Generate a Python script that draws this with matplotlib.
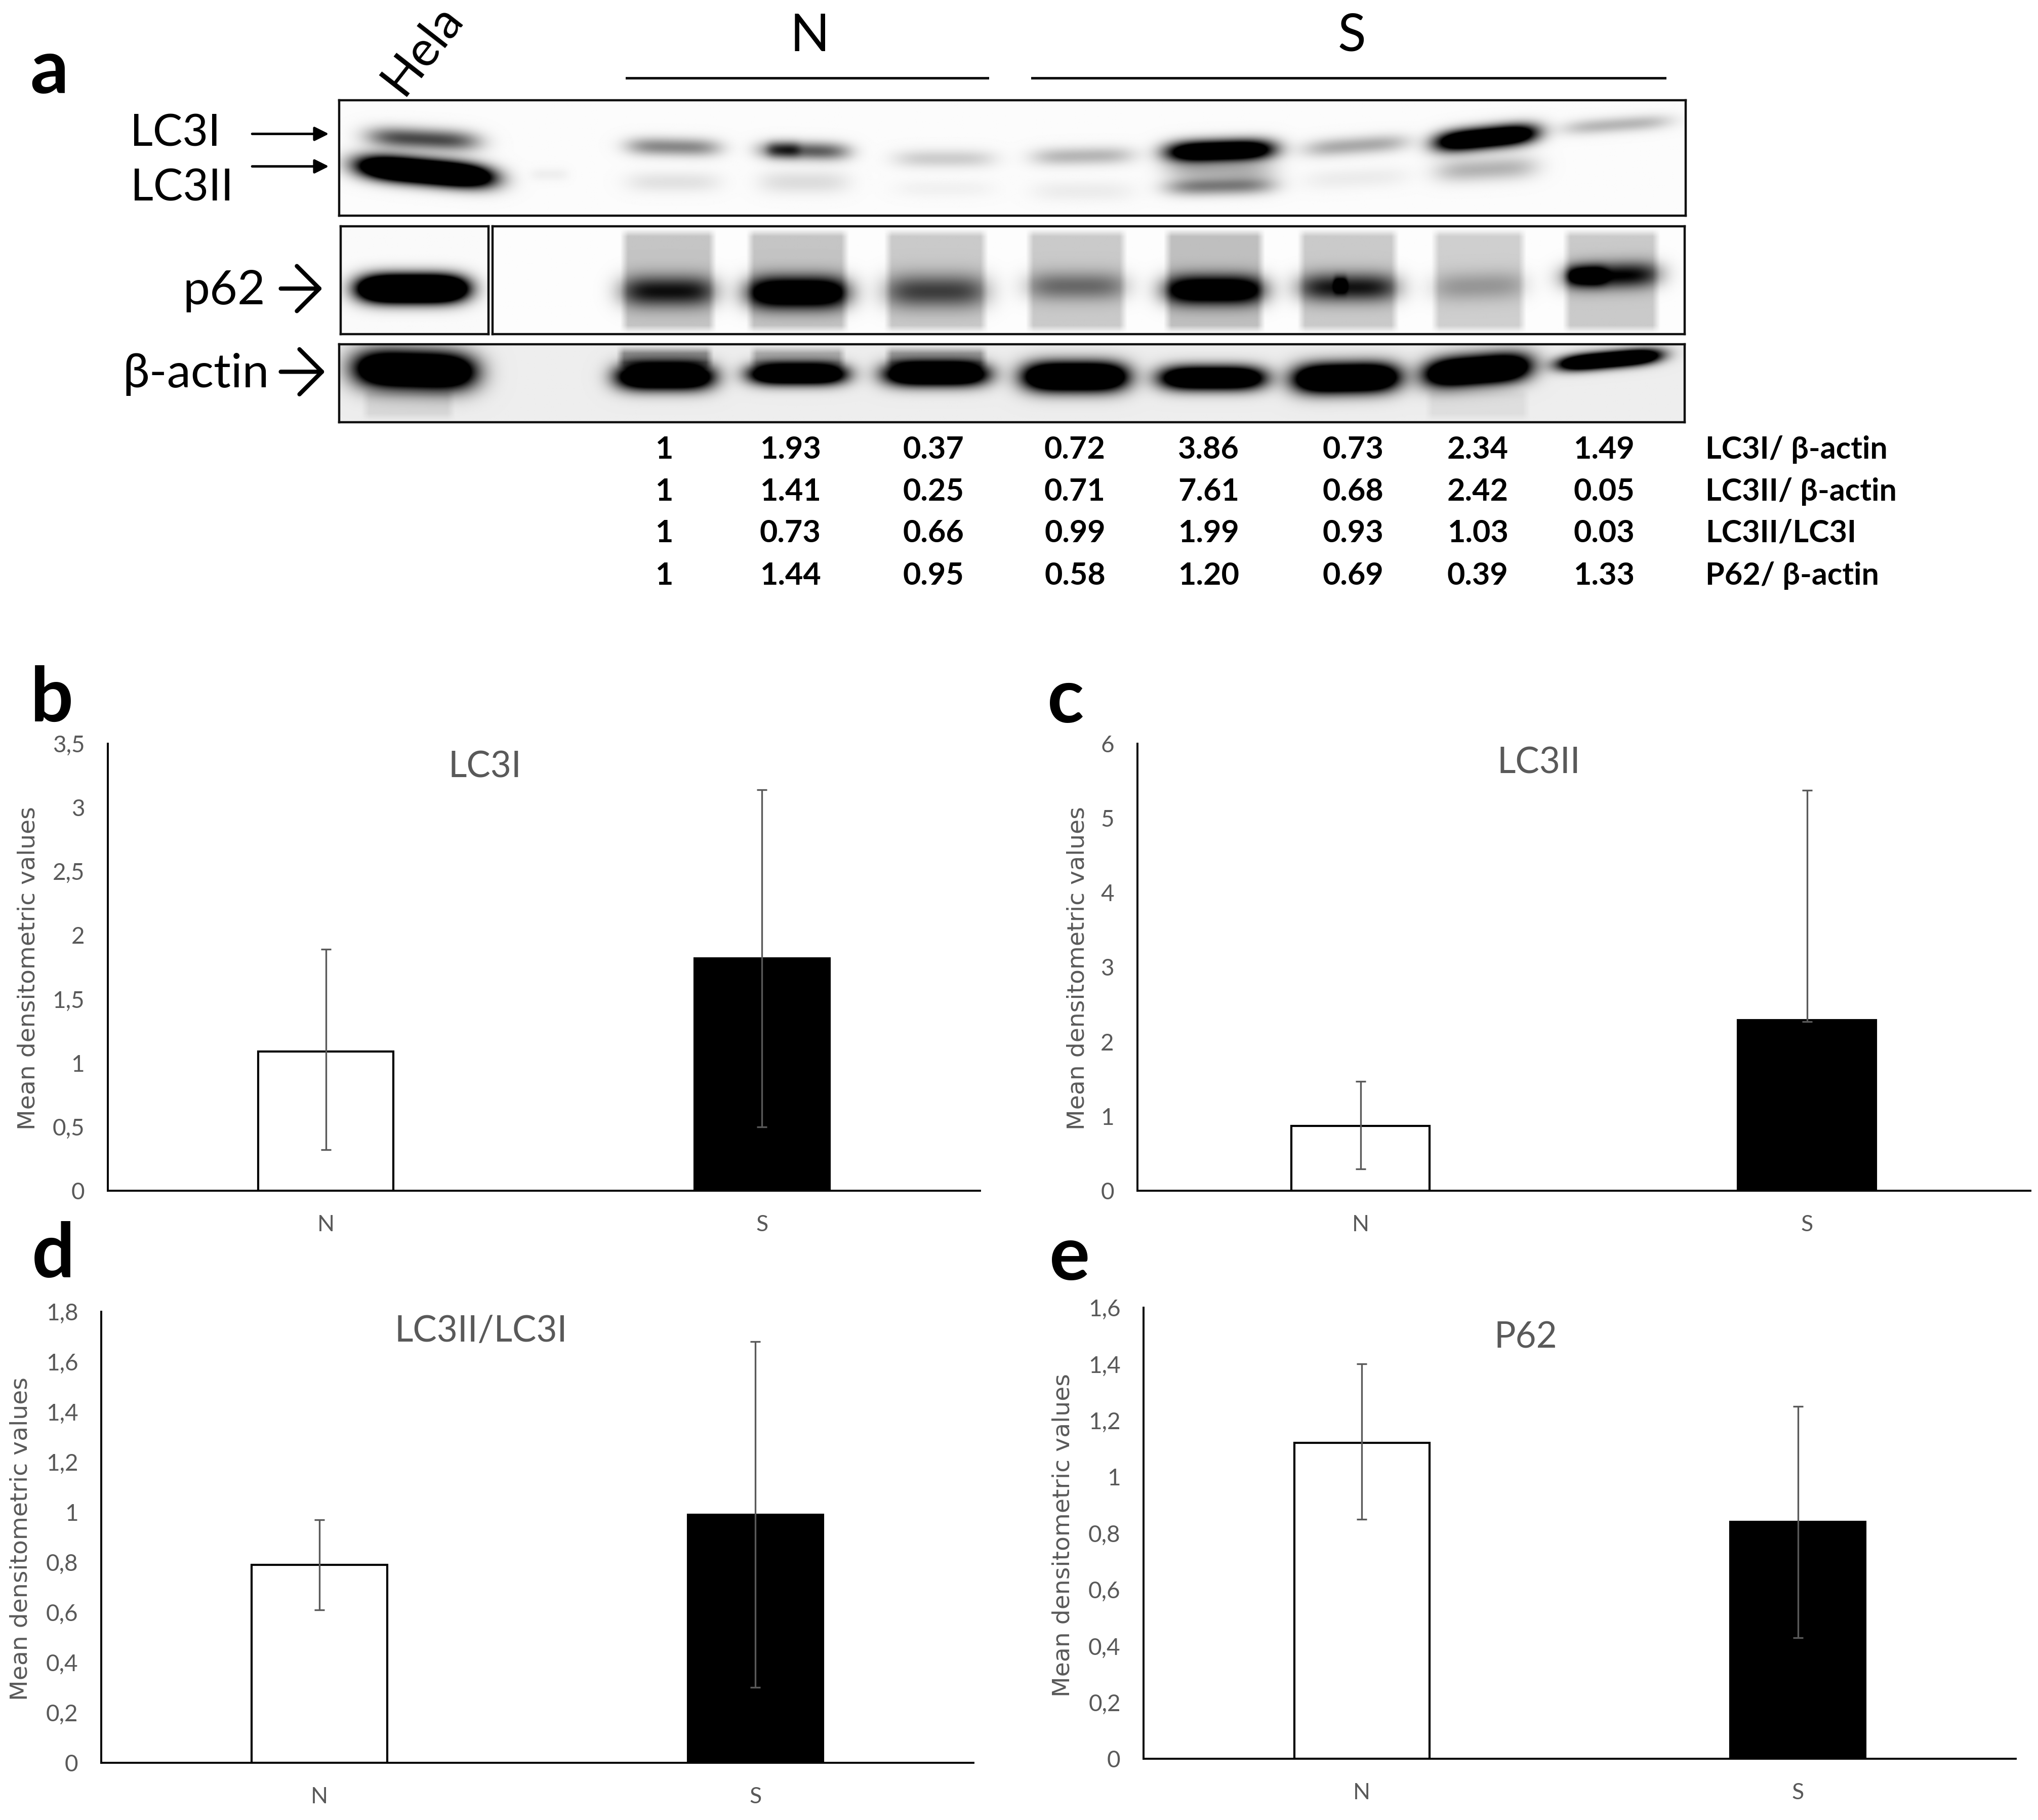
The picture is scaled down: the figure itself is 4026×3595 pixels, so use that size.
import numpy as np
import matplotlib
matplotlib.use('Agg')
import matplotlib.pyplot as plt

W, H = 4026, 3595
S = 4026 / 1568  # reference was read at 1568 wide

plt.rcParams['font.family'] = ['Lato', 'DejaVu Sans']

# bar values
groups = ['N', 'S']
lc3i_mean = [1.09, 1.82]
lc3i_low = [0.32, 0.50]
lc3i_high = [1.89, 3.14]
lc3ii_mean = [0.87, 2.29]
lc3ii_low = [0.29, 2.27]
lc3ii_high = [1.47, 5.37]
ratio_mean = [0.79, 0.99]
ratio_low = [0.61, 0.30]
ratio_high = [0.97, 1.68]
p62_mean = [1.12, 0.84]
p62_low = [0.85, 0.43]
p62_high = [1.40, 1.25]

lc3i_ticks = ['0', '0,5', '1', '1,5', '2', '2,5', '3', '3,5']
lc3ii_ticks = ['0', '1', '2', '3', '4', '5', '6']
ratio_ticks = ['0', '0,2', '0,4', '0,6', '0,8', '1', '1,2', '1,4', '1,6', '1,8']
p62_ticks = ['0', '0,2', '0,4', '0,6', '0,8', '1', '1,2', '1,4', '1,6']

# densitometry table under the blot
row_lc3i = ['1', '1.93', '0.37', '0.72', '3.86', '0.73', '2.34', '1.49']
row_lc3ii = ['1', '1.41', '0.25', '0.71', '7.61', '0.68', '2.42', '0.05']
row_ratio = ['1', '0.73', '0.66', '0.99', '1.99', '0.93', '1.03', '0.03']
row_p62 = ['1', '1.44', '0.95', '0.58', '1.20', '0.69', '0.39', '1.33']
row_names = ['LC3I/ β-actin', 'LC3II/ β-actin', 'LC3II/LC3I', 'P62/ β-actin']

# blot bands: x0, x1, y centre, half height, darkness, tilt
lc3_bands = [
    (283, 368, 107, 8, 0.7, 0.05), (276, 378, 132, 9, 2.4, 0.09), (408, 437, 134, 5, 0.05, 0),
    (482, 554, 113, 7, 0.45, 0.02), (482, 554, 140, 8, 0.1, 0),
    (584, 653, 116, 7, 0.62, 0.02), (590, 615, 115, 6, 0.3, 0), (584, 653, 140, 9, 0.12, 0),
    (688, 765, 122, 7, 0.18, 0), (688, 765, 145, 7, 0.04, 0),
    (794, 872, 120, 7, 0.27, -0.02), (794, 872, 147, 8, 0.06, 0),
    (897, 980, 116, 8, 1.7, -0.03), (897, 980, 143, 7, 0.5, -0.02), (897, 980, 131, 7, 0.25, 0),
    (1003, 1083, 112, 7, 0.32, -0.07), (1003, 1083, 137, 8, 0.06, -0.05),
    (1104, 1182, 106, 8, 1.8, -0.1), (1104, 1182, 130, 9, 0.28, -0.05),
    (1202, 1285, 96, 6, 0.27, -0.07),
]
p62_hela = [(276, 358, 222, 10, 2.8, 0)]
p62_bands = [
    (477, 551, 224, 12, 0.72, 0), (574, 653, 225, 12, 1.3, 0), (680, 760, 224, 13, 0.55, 0),
    (789, 867, 220, 11, 0.38, 0), (895, 973, 223, 11, 1.2, 0), (998, 1076, 221, 11, 0.72, 0),
    (1026, 1036, 219, 6, 0.5, 0), (1101, 1174, 220, 11, 0.22, -0.03), (1202, 1277, 212, 10, 0.8, -0.03),
    (1205, 1235, 212, 7, 0.6, 0),
]
# lane smears: x0, x1, y0, y1, darkness
p62_smears = [
    (477, 551, 176, 256, 0.22), (574, 653, 176, 256, 0.22), (680, 760, 176, 256, 0.2),
    (789, 867, 176, 256, 0.2), (895, 973, 176, 256, 0.24), (998, 1076, 176, 256, 0.2),
    (1101, 1174, 176, 256, 0.18), (1202, 1277, 176, 256, 0.2),
]
actin_bands = [
    (273, 365, 285, 14, 2.0, 0.03), (474, 549, 290, 10, 1.8, 0), (576, 651, 288, 8, 1.8, 0),
    (680, 760, 288, 9, 1.8, 0), (787, 867, 290, 11, 2.0, 0), (892, 973, 291, 9, 1.8, 0),
    (995, 1076, 291, 11, 2.0, -0.02), (1096, 1177, 285, 11, 2.0, -0.08), (1199, 1277, 277, 6, 2.0, -0.09),
]
actin_smears = [
    (474, 549, 266, 285, 0.35), (576, 651, 266, 285, 0.25), (680, 760, 266, 285, 0.3),
    (278, 350, 298, 324, 0.08), (1096, 1177, 298, 324, 0.06),
]


def rect(x0, y0, x1, y1):
    # reference coordinates (y down) to figure fractions
    return [x0 * S / W, 1 - y1 * S / H, (x1 - x0) * S / W, (y1 - y0) * S / H]


def blot(x0, y0, x1, y1, bands, smears=(), back=0.0):
    xs = np.arange(x0, x1, 0.5)
    ys = np.arange(y0, y1, 0.5)
    xx, yy = np.meshgrid(xs, ys)
    dark = np.full(xx.shape, back)
    for a, b, t, u, amp in smears:
        across = np.clip((xx - a) / 6, 0, 1) * np.clip((b - xx) / 6, 0, 1)
        along = np.clip((yy - t) / 6, 0, 1) * np.clip((u - yy) / 6, 0, 1)
        dark += amp * across * along
    for a, b, yc, hh, amp, tilt in bands:
        cx = (a + b) / 2
        across = np.exp(-(np.abs(xx - cx) / ((b - a) / 2)) ** 4)
        along = np.exp(-((yy - yc - tilt * (xx - cx)) / hh) ** 2)
        dark += amp * across * along
    ax = fig.add_axes(rect(x0, y0, x1, y1))
    ax.imshow(1 - np.clip(dark, 0, 1), cmap='gray', vmin=0, vmax=1, aspect='auto', interpolation='bilinear')
    ax.set_xticks([])
    ax.set_yticks([])
    for sp in ax.spines.values():
        sp.set_linewidth(3.2)
        sp.set_color('#111111')


def bar_panel(x0, y0, x1, y1, mean, low, high, ticks, step, title, tx, ty, ylx, yly):
    ax = fig.add_axes(rect(x0, y0, x1, y1))
    pos = np.arange(len(groups))
    yerr = [np.array(mean) - np.array(low), np.array(high) - np.array(mean)]
    ax.bar(pos, mean, width=0.31, color=['white', 'black'], edgecolor='black', linewidth=3)
    ax.errorbar(pos, mean, yerr=yerr, fmt='none', ecolor='#595959', elinewidth=2.4, capsize=7, capthick=2.4)
    ax.set_xlim(-0.5, 1.5)
    ax.set_ylim(0, step * (len(ticks) - 1))
    ax.set_xticks(pos)
    ax.set_xticklabels(groups, fontsize=32, color='#595959')
    ax.set_yticks(step * np.arange(len(ticks)))
    ax.set_yticklabels(ticks, fontsize=33, color='#595959')
    ax.tick_params(axis='x', length=0, pad=34)
    ax.tick_params(axis='y', length=0, pad=33)
    ax.spines['top'].set_visible(False)
    ax.spines['right'].set_visible(False)
    ax.spines['left'].set_linewidth(2.8)
    ax.spines['bottom'].set_linewidth(2.8)
    ax.patch.set_alpha(0)
    put(tx, ty, title, fontsize=51, color='#595959')
    put(ylx, yly, 'Mean densitometric values', fontsize=34, color='#595959', rotation=90,
        family='DejaVu Sans')


def put(x, y, s, ha='center', **kw):
    # +2 evens out the centring of Lato against the reference text
    fig.text(x * S / W, 1 - (y + 2) * S / H, s, ha=ha, va='center', **kw)


fig = plt.figure(figsize=(W / 100, H / 100), dpi=100)

# panel a
blot(261, 77, 1297, 166, lc3_bands, back=0.015)
blot(262, 174, 376, 257, p62_hela, back=0.02)
blot(379, 174, 1296, 257, p62_bands, smears=p62_smears, back=0.01)
blot(261, 265, 1296, 325, actin_bands, smears=actin_smears, back=0.07)

put(38, 53, 'a', fontsize=108, fontweight='bold', color='black')
put(325, 36, 'Hela', fontsize=70, rotation=52, color='black')
put(623, 26, 'N', fontsize=74, color='black')
put(1040, 26, 'S', fontsize=74, color='black')
for a, b in [(482, 760), (794, 1281)]:
    fig.add_artist(plt.Line2D([a * S / W, b * S / W], [1 - 60 * S / H] * 2, color='#111111', lw=3.6))

put(135, 101, 'LC3I', fontsize=63, color='black')
put(140, 143, 'LC3II', fontsize=63, color='black')
put(204, 222, 'p62', ha='right', fontsize=68, color='black')
put(207, 286, 'β-actin', ha='right', fontsize=68, color='black')

for y, style, x0, x1 in [(103, '-|>', 194, 253), (128, '-|>', 194, 253),
                         (222, '->,head_length=0.2,head_width=0.2', 216, 248),
                         (286, '->,head_length=0.2,head_width=0.2', 216, 250)]:
    start = (x0 * S / W, 1 - y * S / H)
    end = (x1 * S / W, 1 - y * S / H)
    mut = 42 if style == '-|>' else 160
    lw = 3.5 if style == '-|>' else 6
    fig.add_artist(matplotlib.patches.FancyArrowPatch(start, end, transform=fig.transFigure, arrowstyle=style,
                                                      mutation_scale=mut, lw=lw, color='black', shrinkA=0, shrinkB=0))

# densitometry table
col_x = [511, 608, 718, 827, 930, 1041, 1137, 1234]
row_y = [346, 378, 410, 443]
for y, row, name in zip(row_y, [row_lc3i, row_lc3ii, row_ratio, row_p62], row_names):
    for x, v in zip(col_x, row):
        put(x, y - 2, v, fontsize=44, fontweight='bold', color='black')
    put(1312, y - 2, name, ha='left', fontsize=44, fontweight='bold', color='black')

# panels b-e
put(40, 536, 'b', fontsize=108, fontweight='bold', color='black')
put(820, 537, 'c', fontsize=108, fontweight='bold', color='black')
put(41, 964, 'd', fontsize=108, fontweight='bold', color='black')
put(823, 966, 'e', fontsize=108, fontweight='bold', color='black')

bar_panel(83, 572, 754, 916, lc3i_mean, lc3i_low, lc3i_high, lc3i_ticks, 0.5, 'LC3I', 373, 588, 22, 743)
bar_panel(875, 572, 1562, 916, lc3ii_mean, lc3ii_low, lc3ii_high, lc3ii_ticks, 1, 'LC3II', 1184, 585, 829, 743)
bar_panel(78, 1009, 749, 1356, ratio_mean, ratio_low, ratio_high, ratio_ticks, 0.2, 'LC3II/LC3I', 370, 1022, 16, 1182)
bar_panel(880, 1006, 1551, 1353, p62_mean, p62_low, p62_high, p62_ticks, 0.2, 'P62', 1174, 1027, 818, 1179)

fig.savefig('out.png', dpi=100, facecolor='white')
